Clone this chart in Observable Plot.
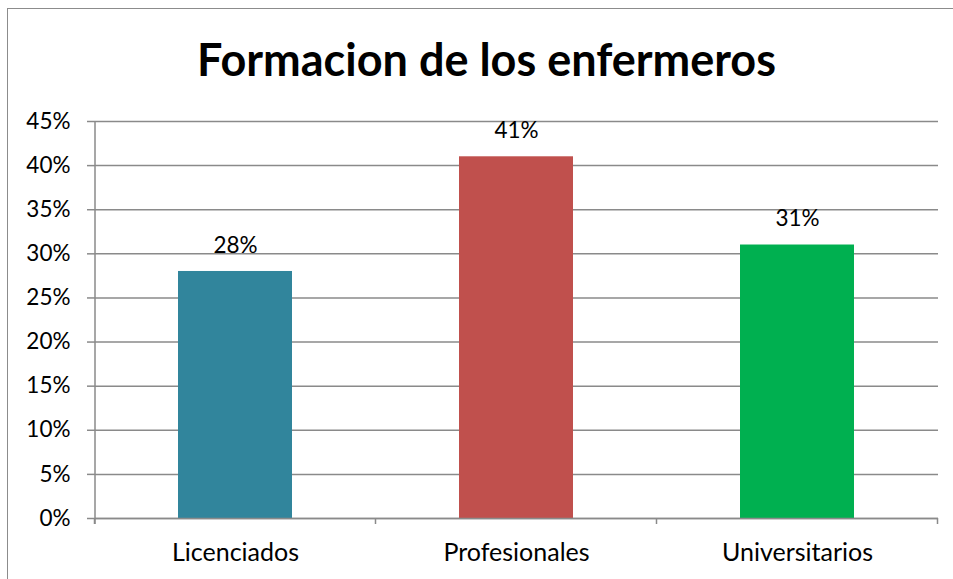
<!DOCTYPE html>
<html>
<head>
<meta charset="utf-8">
<script src="https://cdn.jsdelivr.net/npm/d3@7"></script>
<script src="https://cdn.jsdelivr.net/npm/@observablehq/plot@0.6"></script>
<style>
  html, body { margin: 0; padding: 0; background: #fff; overflow: hidden; }
  #page { position: relative; width: 953px; height: 579px; overflow: hidden; font-family: Lato, "Open Sans", sans-serif; }
  #border { position: absolute; left: 7px; top: 8px; width: 980px; height: 600px; border: 1.5px solid #8c8c8c; box-sizing: border-box; }
  #title { position: absolute; left: 20px; top: 0; width: 933px; height: 100px; text-align: center; font-weight: bold; font-size: 45px; line-height: 118px; color: #000; }
  #chart { position: absolute; left: 0; top: 100px; }
</style>
</head>
<body>
<div id="page">
  <div id="border"></div>
  <div id="title">Formacion de los enfermeros</div>
  <div id="chart"></div>
</div>
<script>
const categories = ["Licenciados", "Profesionales", "Universitarios"];
const values = [28, 41, 31];
const colors = ["#31859C", "#C0504D", "#00B050"];
const yTicks = [0, 5, 10, 15, 20, 25, 30, 35, 40, 45];

const data = categories.map((c, i) => ({category: c, value: values[i], color: colors[i]}));
const grid = "#8a8a8a";

function axisDecor(index, scales, values, dim) {
  const x = scales.x, y = scales.y;
  const g = d3.create("svg:g").attr("stroke", grid).attr("stroke-width", 1.5).attr("fill", "none");
  const left = dim.marginLeft;
  const y0 = y(0), yTop = y(d3.max(yTicks));
  g.append("line").attr("x1", left).attr("x2", left).attr("y1", yTop).attr("y2", y0 + 6);
  const step = x.step();
  const bounds = categories.map(c => x(c) + x.bandwidth() / 2 - step / 2);
  bounds.push(x(categories[categories.length - 1]) + x.bandwidth() / 2 + step / 2);
  for (const b of bounds) {
    g.append("line").attr("x1", b).attr("x2", b).attr("y1", y0).attr("y2", y0 + 6);
  }
  return g.node();
}

const chart = Plot.plot({
  width: 953,
  height: 479,
  marginLeft: 95,
  marginRight: 15,
  marginTop: 21,
  marginBottom: 61,
  style: {fontFamily: "Lato, 'Open Sans', sans-serif", fontSize: "22px", color: "#000", background: "transparent"},
  x: {domain: categories, paddingInner: 0.594, paddingOuter: 0.297, label: null},
  y: {domain: [0, 45], label: null},
  marks: [
    Plot.gridY(yTicks, {stroke: grid, strokeOpacity: 1, strokeWidth: 1.5}),
    Plot.axisY(yTicks, {tickFormat: d => d + "%", tickSize: 8, stroke: grid, strokeWidth: 1.5, tickPadding: 17, fontSize: 22.5, fill: "#000"}),
    Plot.axisX({tickSize: 0, tickPadding: 25, fontSize: 25, fill: "#000"}),
    Plot.barY(data, {x: "category", y: "value", fill: "color"}),
    Plot.ruleY([0], {stroke: grid, strokeWidth: 1.5}),
    axisDecor,
    Plot.text(data, {x: "category", y: "value", text: d => d.value + "%", dy: -26, fontSize: 22.5, fill: "#000"})
  ]
});
document.getElementById("chart").appendChild(chart);
</script>
</body>
</html>
